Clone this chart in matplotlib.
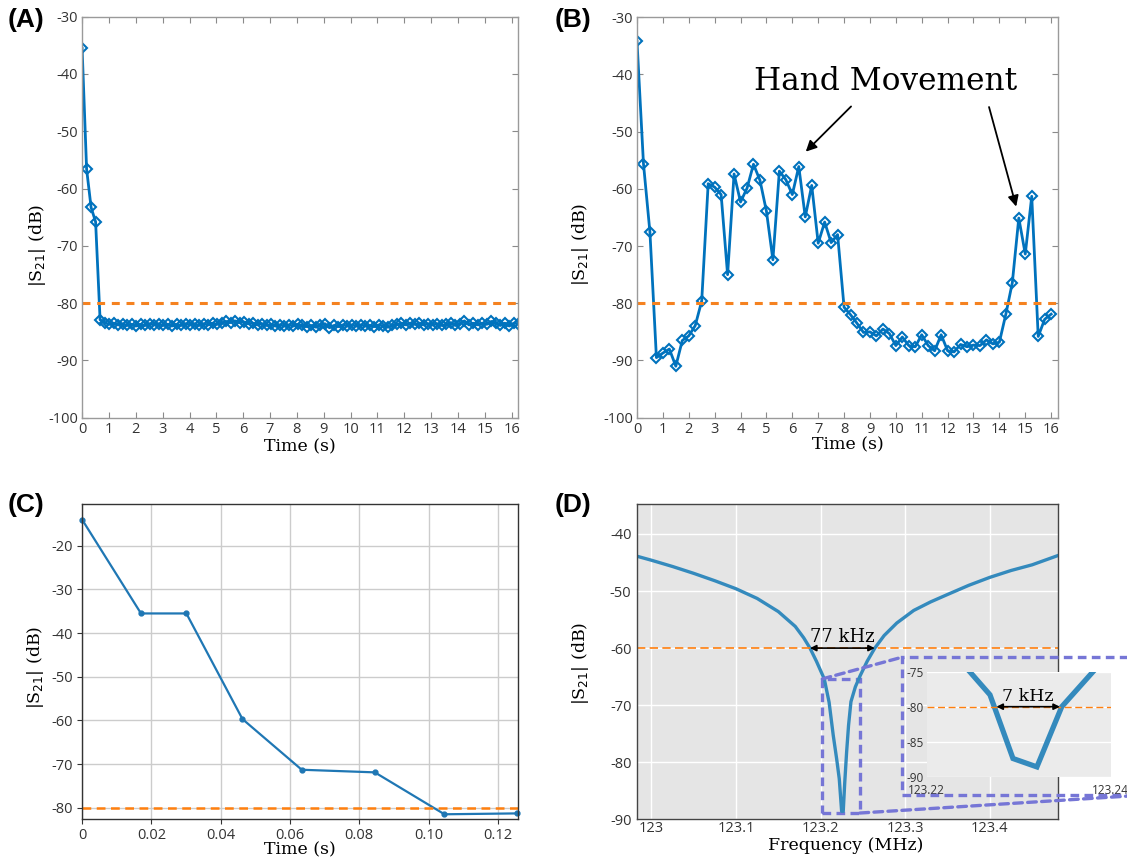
import numpy as np
import matplotlib
matplotlib.use('Agg')
import matplotlib.pyplot as plt
from matplotlib.patches import Rectangle, ConnectionPatch

plt.rcParams['font.family'] = ['Open Sans', 'DejaVu Sans']
plt.rcParams['mathtext.fontset'] = 'dejavusans'
plt.rcParams['axes.unicode_minus'] = False

# ---------------- data ----------------
# (A) no hand movement
dt_a = 0.1675
s21_a = [-35.5, -56.6, -63.3, -65.8,
         -82.9,
         -83.4, -83.7, -83.5, -83.8, -83.6, -83.9, -83.7,
         -84.0, -83.7, -83.9, -83.6, -83.8, -83.6, -83.9, -83.7, -84.0,
         -83.7, -83.9, -83.6, -83.8, -83.6, -83.9, -83.6, -83.8, -83.5, -83.7,
         -83.5, -83.2, -83.4, -83.1, -83.4, -83.3,
         -83.6, -83.5, -83.8, -83.6, -83.9, -83.7, -84.0, -83.8, -84.0,
         -83.8, -84.0, -83.7, -83.9, -84.1, -83.9, -84.2, -83.8, -83.6, -84.3,
         -83.9, -84.1, -83.8, -84.0, -83.8, -84.0, -83.8, -84.0, -83.9, -84.1, -83.8,
         -84.0, -84.2, -83.9, -83.7, -83.5, -83.8, -83.5, -83.7, -83.5,
         -83.8, -83.6, -83.8, -83.6, -83.9, -83.7, -83.4, -83.9, -83.6,
         -83.1, -83.8, -83.5, -83.8, -83.5, -83.7, -83.2, -83.5, -83.9, -83.5, -84.0, -83.5, -83.6]
t_a = np.arange(len(s21_a)) * dt_a

# (B) with hand movement
dt_b = 0.25
s21_b = [-34.2, -55.6, -67.6, -89.5, -88.7, -88.0, -91.0, -86.5, -85.7, -83.9,
         -79.6, -59.1, -59.7, -61.0, -75.0, -57.4, -62.3, -59.9, -55.7, -58.5,
         -63.9, -72.4, -56.9, -58.4, -61.0, -56.1, -64.9, -59.4, -69.5, -65.8,
         -69.4, -68.0, -80.7, -82.0, -83.5, -85.1, -85.0, -85.7, -84.5, -85.3,
         -87.4, -85.9, -87.4, -87.6, -85.5, -87.4, -88.3, -85.5, -88.3, -88.5,
         -87.2, -87.6, -87.3, -87.4, -86.4, -87.1, -86.8, -81.9, -76.4, -65.1,
         -71.4, -61.3, -85.8, -82.8, -81.9]
t_b = np.arange(len(s21_b)) * dt_b

# (C) response time
t_c = [0.0, 0.0170, 0.0301, 0.0463, 0.0634, 0.0845, 0.1046, 0.1255]
s21_c = [-14.0, -35.5, -35.5, -59.7, -71.3, -71.9, -81.5, -81.3]

# (D) frequency response
freq_d = [122.983, 123.000, 123.025, 123.050, 123.075, 123.100, 123.125, 123.150,
          123.170, 123.180, 123.1874, 123.195, 123.2043, 123.210, 123.2149, 123.219,
          123.2220, 123.2248, 123.2267, 123.2285, 123.2307, 123.233, 123.2358,
          123.241, 123.2465, 123.255, 123.264, 123.275, 123.290, 123.310, 123.330,
          123.350, 123.375, 123.400, 123.425, 123.450, 123.480]
s21_d = [-43.9, -44.6, -45.7, -46.9, -48.2, -49.6, -51.3, -53.6,
         -56.2, -58.2, -60.0, -62.3, -65.4, -69.5, -75.3, -79.5,
         -82.9, -88.6, -88.6, -83.5, -78.2, -73.5, -69.4,
         -66.8, -64.9, -62.3, -60.0, -57.8, -55.6, -53.4, -51.9,
         -50.6, -49.0, -47.6, -46.4, -45.4, -43.8]
freq_inset = [123.2240, 123.2247, 123.2269, 123.2294, 123.2320, 123.2347, 123.2381, 123.2388]
s21_inset = [-74.0, -75.0, -78.3, -87.4, -88.6, -80.0, -75.0, -74.0]

thr_ab = -80
thr_c = -80
thr_d = -60
thr_inset = -80
bw77 = (123.1874, 123.264)
bw7 = (123.2276, 123.2345)
zoom_box = (123.2019, 123.2465, -88.9, -65.4)

# ---------------- style ----------------
W, H = 1127, 861
fig = plt.figure(figsize=(W / 100, H / 100), dpi=100)

def axes_px(l, t, r, b):
    return fig.add_axes([l / W, 1 - b / H, (r - l) / W, (b - t) / H])

MBLUE = '#0072BD'
ORANGE = '#f58220'
SERIF = 'DejaVu Serif'
TICKC = '#333333'
YLAB = r'|S$_{21}$| (dB)'


def matlab_style(ax, xmax):
    ax.set_xlim(0, xmax)
    ax.set_ylim(-100, -30)
    ax.set_xticks(range(0, 17))
    ax.set_yticks(range(-100, -29, 10))
    ax.tick_params(direction='in', top=True, right=True, length=4, width=0.8,
                   color='#8a8a8a', labelsize=10.5, labelcolor=TICKC, pad=3)
    for s in ax.spines.values():
        s.set_color('#9a9a9a')
        s.set_linewidth(1.0)


# (A)
axA = axes_px(82.1, 16.7, 517.9, 417.7)
axA.plot(t_a, s21_a, '-', color=MBLUE, lw=2, marker='D', ms=5, mfc='none', mew=1.5)
axA.axhline(thr_ab, color=ORANGE, lw=2.2, ls=(0, (2.6, 2.2)))
matlab_style(axA, 16.23)
axA.set_xlabel('Time (s)', fontfamily=SERIF, fontsize=12.5, va='center')
axA.xaxis.set_label_coords(0.5, -0.072)
axA.set_ylabel(YLAB, fontfamily=SERIF, fontsize=12.5, va='center')
axA.yaxis.set_label_coords(-0.103, 0.43)

# (B)
axB = axes_px(637, 17.2, 1058.4, 417.7)
axB.plot(t_b, s21_b, '-', color=MBLUE, lw=2, marker='D', ms=5.5, mfc='none', mew=1.5)
axB.axhline(thr_ab, color=ORANGE, lw=2.2, ls=(0, (2.6, 2.2)))
matlab_style(axB, 16.28)
axB.set_xlabel('Time (s)', fontfamily=SERIF, fontsize=12.5, va='center')
axB.xaxis.set_label_coords(0.5, -0.068)
axB.set_ylabel(YLAB, fontfamily=SERIF, fontsize=12.5, va='center')
axB.yaxis.set_label_coords(-0.135, 0.433)
axB.text(9.6, -41.2, 'Hand Movement', fontfamily=SERIF, fontsize=22.5,
         ha='center', va='center', color='black')
arrow_kw = dict(arrowstyle='-|>', color='black', lw=1.3, mutation_scale=16,
                shrinkA=0, shrinkB=0)
axB.annotate('', xy=(6.52, -53.5), xytext=(8.27, -45.6), arrowprops=arrow_kw)
axB.annotate('', xy=(14.65, -63.1), xytext=(13.6, -45.7), arrowprops=arrow_kw)

# (C)
axC = axes_px(82.1, 504.3, 517.9, 819.3)
axC.plot(t_c, s21_c, '-', color='#1f77b4', lw=1.6, marker='o', ms=3.5, clip_on=False)
axC.axhline(thr_c, color='#ff7f0e', lw=1.8, ls=(0, (3.5, 2.2)))
axC.set_xlim(0, 0.1258)
axC.set_ylim(-82.65, -10.5)
axC.set_xticks([0, 0.02, 0.04, 0.06, 0.08, 0.10, 0.12])
axC.set_xticklabels(['0', '0.02', '0.04', '0.06', '0.08', '0.10', '0.12'])
axC.set_yticks(range(-80, -19, 10))
axC.grid(True, color='#cccccc', lw=1.0)
axC.set_axisbelow(True)
axC.tick_params(direction='out', length=3.5, width=0.8, color=TICKC,
                labelsize=10.5, labelcolor=TICKC, pad=3)
for s in axC.spines.values():
    s.set_color('#333333')
    s.set_linewidth(1.0)
axC.set_xlabel('Time (s)', fontfamily=SERIF, fontsize=12.5, va='center')
axC.xaxis.set_label_coords(0.5, -0.097)
axC.set_ylabel(YLAB, fontfamily=SERIF, fontsize=12.5, va='center')
axC.yaxis.set_label_coords(-0.106, 0.483)

# (D)
DBLUE = '#348ABD'
PURPLE = '#7676d6'
axD = axes_px(637, 504.3, 1057.6, 819.3)
axD.set_facecolor('#e5e5e5')
axD.plot(freq_d, s21_d, '-', color=DBLUE, lw=2.4, solid_joinstyle='round')
axD.axhline(thr_d, color='#ff7f0e', lw=1.2, ls=(0, (5, 2.6)))
axD.set_xlim(122.983, 123.480)
axD.set_ylim(-90, -34.8)
axD.set_xticks([123.0, 123.1, 123.2, 123.3, 123.4])
axD.set_xticklabels(['123', '123.1', '123.2', '123.3', '123.4'])
axD.set_yticks(range(-90, -39, 10))
axD.grid(True, color='white', lw=1.0)
axD.set_axisbelow(True)
axD.tick_params(length=0, labelsize=10.5, labelcolor=TICKC, pad=4)
axD.tick_params(axis='x', pad=1.5)
for s in axD.spines.values():
    s.set_color('#444444')
    s.set_linewidth(1.0)
axD.set_xlabel('Frequency (MHz)', fontfamily=SERIF, fontsize=12.5, va='center')
axD.xaxis.set_label_coords(0.496, -0.082)
axD.set_ylabel(YLAB, fontfamily=SERIF, fontsize=12.5, va='center')
axD.yaxis.set_label_coords(-0.135, 0.496)
dbl = dict(arrowstyle='<|-|>', color='black', lw=1.2, mutation_scale=9,
           shrinkA=0, shrinkB=0)
axD.annotate('', xy=(bw77[0], thr_d), xytext=(bw77[1], thr_d), arrowprops=dbl)
axD.text((bw77[0] + bw77[1]) / 2, thr_d + 0.4, '77 kHz', fontfamily=SERIF,
         fontsize=13, ha='center', va='bottom')

# zoom rectangle in main axes
zx0, zx1, zy0, zy1 = zoom_box
dash_kw = dict(edgecolor=PURPLE, facecolor='none', lw=2.4, ls=(0, (2.6, 1.6)))
axD.add_patch(Rectangle((zx0, zy0), zx1 - zx0, zy1 - zy0, clip_on=False, **dash_kw))

# big dashed frame around inset (figure coordinates)
big_l, big_t, big_r, big_b = 901.7, 657.3, 1145, 795.0
fig.add_artist(Rectangle((big_l / W, 1 - big_b / H), (big_r - big_l) / W,
                         (big_b - big_t) / H, transform=fig.transFigure, **dash_kw))
con_kw = dict(color=PURPLE, lw=2.4, ls=(0, (2.6, 1.6)))
c1 = ConnectionPatch(xyA=(zx0, zy1), coordsA=axD.transData,
                     xyB=(big_l / W, 1 - big_t / H), coordsB=fig.transFigure, **con_kw)
c2 = ConnectionPatch(xyA=(zx1, zy0), coordsA=axD.transData,
                     xyB=(big_r / W, 1 - big_b / H), coordsB=fig.transFigure, **con_kw)
fig.add_artist(c1)
fig.add_artist(c2)

# inset
axI = axes_px(926.5, 671.7, 1110.5, 776.7)
axI.set_facecolor('#ebebeb')
axI.plot(freq_inset, s21_inset, '-', color=DBLUE, lw=3.8, solid_joinstyle='miter')
axI.axhline(thr_inset, color='#ff7f0e', lw=1.0, ls=(0, (5, 2.6)))
axI.set_xlim(123.22, 123.24)
axI.set_ylim(-90, -75)
axI.set_xticks([123.22, 123.24])
axI.set_xticklabels(['123.22', '123.24'])
axI.set_yticks([-90, -85, -80, -75])
axI.grid(True, axis='y', color='white', lw=1.0)
axI.set_axisbelow(True)
axI.tick_params(length=0, labelsize=8.5, labelcolor=TICKC)
axI.tick_params(axis='y', pad=2)
axI.tick_params(axis='x', pad=5.5)
for s in axI.spines.values():
    s.set_visible(False)
axI.annotate('', xy=(bw7[0], thr_inset), xytext=(bw7[1], thr_inset), arrowprops=dbl)
axI.text((bw7[0] + bw7[1]) / 2, thr_inset + 0.3, '7 kHz', fontfamily=SERIF,
         fontsize=12.5, ha='center', va='bottom')

# panel letters
for lab, x, y in [('(A)', 8, 8), ('(B)', 555, 8), ('(C)', 8, 493), ('(D)', 555, 493)]:
    fig.text(x / W, 1 - y / H, lab, fontfamily='Liberation Sans', fontweight='bold',
             fontsize=19, ha='left', va='top')

fig.savefig('out.png', dpi=100, facecolor='white')
